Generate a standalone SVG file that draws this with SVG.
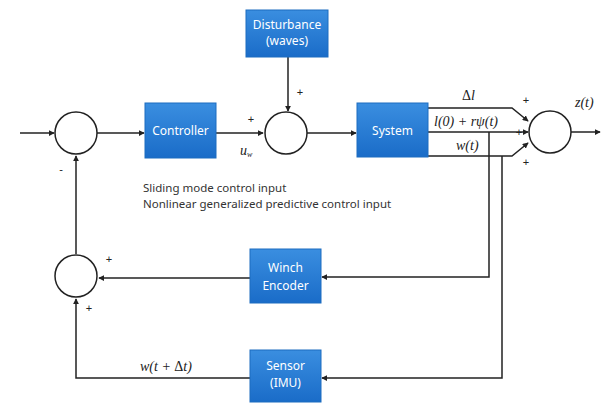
<svg xmlns="http://www.w3.org/2000/svg" width="611" height="405" viewBox="0 0 611 405">
<style>
.box{fill:url(#g);stroke:#1c6cc0;stroke-width:1}
.bt{font-family:"Noto Sans","Open Sans",sans-serif;font-size:12px;fill:#fff;text-anchor:middle}
.ln{fill:none;stroke:#222;stroke-width:1.5}
.ar{fill:none;stroke:#222;stroke-width:1.5;marker-end:url(#a)}
.sum{fill:#fff;stroke:#222;stroke-width:1.5}
.sg{font-family:"Liberation Sans",sans-serif;font-size:11px;fill:#222;text-anchor:middle}
.mt{font-family:"Liberation Serif",serif;font-style:italic;font-size:14px;fill:#222}
.up{font-style:normal}
.nt{font-family:"Noto Sans","Open Sans",sans-serif;font-size:11.5px;fill:#333}
</style>
<defs>
<linearGradient id="g" x1="0" y1="0" x2="0" y2="1"><stop offset="0" stop-color="#3a8ee0"/><stop offset="1" stop-color="#1a6cc8"/></linearGradient>
<marker id="a" viewBox="0 0 8 8" refX="7" refY="4" markerWidth="6" markerHeight="6" orient="auto" markerUnits="userSpaceOnUse"><path d="M0,0L8,4L0,8z" fill="#222"/></marker>
</defs>
<rect width="611" height="405" fill="#fff"/>
<g id="connectors">
<path class="ar" d="M20,133H54"/>
<path class="ar" d="M97,133H144"/>
<path class="ar" d="M216,133H263"/>
<path class="ar" d="M288,57V111"/>
<path class="ar" d="M307,133H356"/>
<path class="ar" d="M428,108H512L528,121"/>
<path class="ar" d="M428,132H528"/>
<path class="ar" d="M428,156H512L528,143"/>
<path class="ar" d="M571,132H600"/>
<path class="ar" d="M489,132V277H322"/>
<path class="ar" d="M502,156V378H322"/>
<path class="ar" d="M250,278H99"/>
<path class="ar" d="M250,378H76V299"/>
<path class="ar" d="M76,254V156"/>
</g>
<g id="sum1"><circle class="sum" cx="76" cy="133" r="21"/><text class="sg" x="61" y="173">-</text></g>
<g id="controller"><rect class="box" x="145" y="103" width="71" height="55"/><text class="bt" x="180.5" y="135">Controller</text></g>
<g id="disturbance"><rect class="box" x="246" y="10" width="82" height="47"/><text class="bt" x="287" y="29">Disturbance</text><text class="bt" x="287" y="45">(waves)</text></g>
<g id="sum2"><circle class="sum" cx="286" cy="133" r="21"/><text class="sg" x="300" y="96">+</text><text class="sg" x="251" y="123">+</text><text class="mt" x="240" y="155" font-size="12">u<tspan font-size="8" dy="2">w</tspan></text></g>
<g id="system"><rect class="box" x="357" y="103" width="71" height="54"/><text class="bt" x="392.5" y="135">System</text></g>
<g id="sum4"><circle class="sum" cx="550" cy="132" r="21"/><text class="sg" x="526" y="104">+</text><text class="sg" x="519" y="136">+</text><text class="sg" x="526" y="166">+</text><text class="mt" x="575" y="107">z(t)</text></g>
<g id="labels"><text class="mt" x="462" y="100"><tspan class="up">Δ</tspan>l</text><text class="mt" x="434" y="126">l(0) + rψ(t)</text><text class="mt" x="456" y="150">w(t)</text></g>
<g id="note"><text class="nt" x="143" y="192">Sliding mode control input</text><text class="nt" x="143" y="208">Nonlinear generalized predictive control input</text></g>
<g id="winch"><rect class="box" x="250" y="249" width="71" height="54"/><text class="bt" x="285.5" y="272">Winch</text><text class="bt" x="285.5" y="290">Encoder</text></g>
<g id="sum3"><circle class="sum" cx="76" cy="276" r="21"/><text class="sg" x="109" y="263">+</text><text class="sg" x="89" y="312">+</text></g>
<g id="sensor"><rect class="box" x="250" y="350" width="71" height="52"/><text class="bt" x="285.5" y="370">Sensor</text><text class="bt" x="285.5" y="387">(IMU)</text></g>
<g id="wlabel"><text class="mt" x="140" y="371">w(t + <tspan class="up">Δ</tspan>t)</text></g>
</svg>
